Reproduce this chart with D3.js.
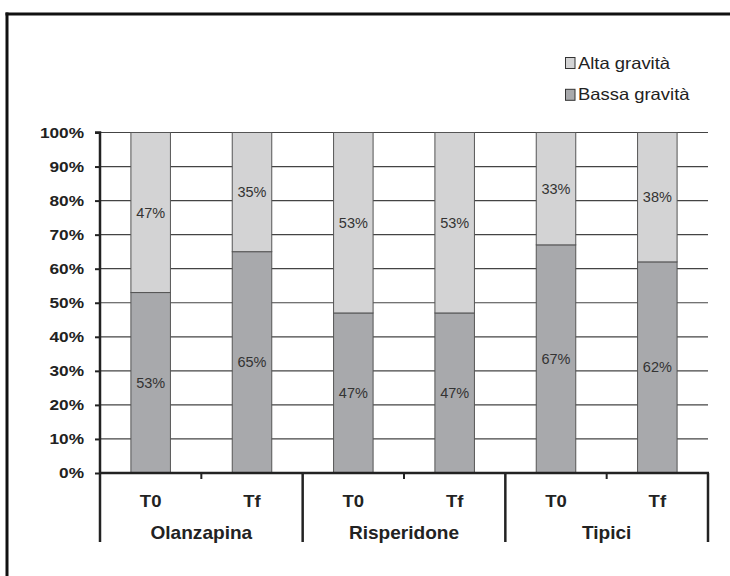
<!DOCTYPE html>
<html><head><meta charset="utf-8">
<script src="https://cdn.jsdelivr.net/npm/d3@7"></script>
<style>body{margin:0;background:#fff}svg{display:block}text{font-family:"Liberation Sans",Arial,sans-serif}</style>
</head><body><svg id="c" width="730" height="576"></svg>
<script>
const groups = ["Olanzapina","Risperidone","Tipici"];
const times = ["T0","Tf"];
const bassa = [53,65,47,47,67,62];
const alta = [47,35,53,53,33,38];
const yTicks = [0,10,20,30,40,50,60,70,80,90,100];
const seriesNames = ["Alta gravità","Bassa gravità"];
const colors = {alta:"#d3d3d4", bassa:"#a8a9ac"};

const svg = d3.select("#c");
function txt(parent, x, y, s, str, opts){
  const t = parent.append("text").attr("transform",`translate(${x},${y}) scale(${s},1)`)
    .attr("text-anchor",opts.anchor||"middle").attr("font-size",opts.size)
    .attr("font-weight",opts.bold?"bold":"normal").attr("fill",opts.fill||"#222").text(str);
  return t;
}
// frame (top + left)
svg.append("line").attr("x1",5.5).attr("x2",730).attr("y1",14).attr("y2",14).attr("stroke","#111").attr("stroke-width",3);
svg.append("line").attr("x1",7).attr("x2",7).attr("y1",12.5).attr("y2",576).attr("stroke","#111").attr("stroke-width",3);

const x0 = 100, x1 = 708, yTop = 132.5, yBot = 473;
const bars = [];
groups.forEach((g,gi)=>times.forEach((t,ti)=>bars.push({g,t,i:gi*2+ti})));
const x = d3.scaleBand().domain(bars.map(d=>d.i)).range([x0,x1]).paddingInner(0.61).paddingOuter(0.305);
const y = d3.scaleLinear().domain([0,100]).range([yBot,yTop]);

// gridlines
svg.append("g").selectAll("line").data(yTicks.filter(d=>d>0)).join("line")
  .attr("x1",x0).attr("x2",x1).attr("y1",d=>y(d)).attr("y2",d=>y(d))
  .attr("stroke","#444").attr("stroke-width",1.2);

// bars
const bg = svg.append("g");
bars.forEach(b=>{
  const lo = bassa[b.i], hi = alta[b.i];
  const cx = x(b.i)+x.bandwidth()/2;
  bg.append("rect").attr("x",x(b.i)).attr("width",x.bandwidth())
    .attr("y",y(lo)).attr("height",y(0)-y(lo)).attr("fill",colors.bassa).attr("stroke","#555").attr("stroke-width",1);
  bg.append("rect").attr("x",x(b.i)).attr("width",x.bandwidth())
    .attr("y",y(lo+hi)).attr("height",y(lo)-y(lo+hi)).attr("fill",colors.alta).attr("stroke","#555").attr("stroke-width",1);
  txt(bg, cx, y(lo/2)+5, 1, lo+"%", {size:14.5, fill:"#333"});
  txt(bg, cx, y(lo+hi/2)+5, 1, hi+"%", {size:14.5, fill:"#333"});
});

// y axis
const ya = svg.append("g").attr("transform",`translate(${x0},0)`)
  .call(d3.axisLeft(y).tickValues(yTicks).tickFormat("").tickSize(5));
ya.select(".domain").attr("stroke","#222").attr("stroke-width",2.5).attr("d",`M-5,${yTop}H0V${yBot}`);
ya.selectAll(".tick line").attr("stroke","#222").attr("stroke-width",2);
const yl = svg.append("g");
yTicks.forEach(v=>txt(yl, x0-16, y(v)+5.3, 1.12, v+"%", {size:15.4, bold:true, anchor:"end"}));

// x axis baseline
svg.append("line").attr("x1",x0).attr("x2",x1+1).attr("y1",yBot).attr("y2",yBot).attr("stroke","#222").attr("stroke-width",2.5);

// group separators
const gw = (x1-x0)/groups.length;
const sepX = d3.range(groups.length+1).map(i=>x0+i*gw);
svg.append("g").selectAll("line").data(sepX).join("line")
  .attr("x1",d=>d).attr("x2",d=>d).attr("y1",yBot).attr("y2",542).attr("stroke","#222").attr("stroke-width",2.5);
// minor ticks at group midpoints
svg.append("g").selectAll("line").data(groups).join("line")
  .attr("x1",(d,i)=>x0+(i+0.5)*gw).attr("x2",(d,i)=>x0+(i+0.5)*gw).attr("y1",yBot).attr("y2",479)
  .attr("stroke","#222").attr("stroke-width",2);

// time labels
const xl = svg.append("g");
bars.forEach(b=>txt(xl, x(b.i)+x.bandwidth()/2, 507.3, 1.09, b.t, {size:17, bold:true}));
// group labels
groups.forEach((g,i)=>txt(xl, x0+(i+0.5)*gw, 539, 1.06, g, {size:18, bold:true}));

// legend
const lg = svg.append("g");
seriesNames.forEach((n,i)=>{
  const base = 68.5 + i*31.8;
  lg.append("rect").attr("x",565.5).attr("y",base-11).attr("width",9.5).attr("height",11)
    .attr("fill",i===0?colors.alta:colors.bassa).attr("stroke","#333").attr("stroke-width",1);
  txt(lg, 578, base, 1.13, n, {size:16.3, anchor:"start"});
});
</script></body></html>
